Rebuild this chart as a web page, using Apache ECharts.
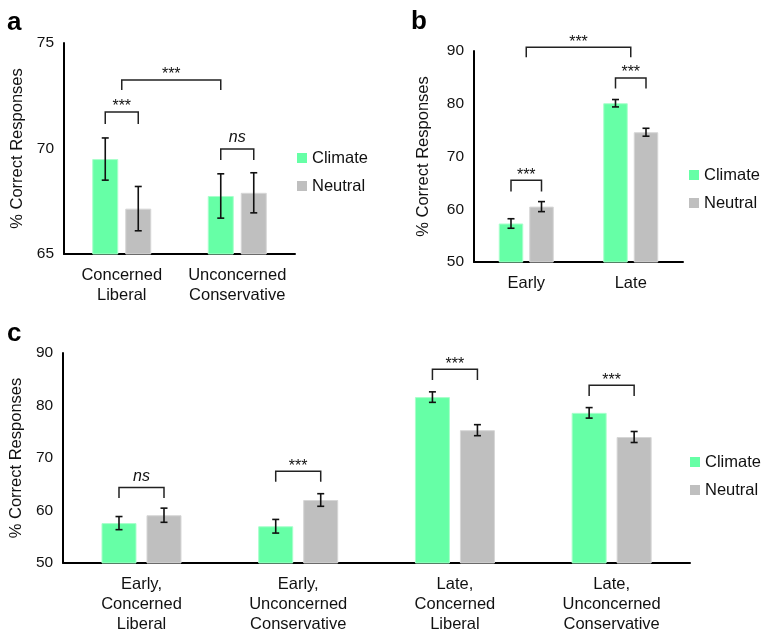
<!DOCTYPE html>
<html><head><meta charset="utf-8">
<script src="https://cdn.jsdelivr.net/npm/echarts@6/dist/echarts.min.js"></script>
<style>html,body{margin:0;padding:0;background:#fff}#c{width:761px;height:634px}</style>
</head><body><div id="c"></div>
<script>
// ---- Data ----
const seriesNames = ['Climate', 'Neutral'];
const catsA = ['Concerned\nLiberal', 'Unconcerned\nConservative'];
const climateA = [69.5, 67.75];
const neutralA = [67.15, 67.9];
const errClimateA = [1.0, 1.05];
const errNeutralA = [1.05, 0.95];

const catsB = ['Early', 'Late'];
const climateB = [57.3, 80.1];
const neutralB = [60.5, 74.6];
const errClimateB = [0.9, 0.7];
const errNeutralB = [0.95, 0.75];

const catsC = ['Early,\nConcerned\nLiberal', 'Early,\nUnconcerned\nConservative', 'Late,\nConcerned\nLiberal', 'Late,\nUnconcerned\nConservative'];
const climateC = [57.6, 57.0, 81.6, 78.6];
const neutralC = [59.1, 62.0, 75.3, 74.0];
const errClimateC = [1.25, 1.3, 1.0, 1.0];
const errNeutralC = [1.35, 1.2, 1.05, 1.05];

// brackets: [cat1, side1, cat2, side2, topValue, legValue]  side: -1 climate bar, 0 category centre, 1 neutral bar
const bracketsA = [[0,-1,0,1,71.73,71.16],[0,0,1,-1,73.25,72.77],[1,-1,1,1,69.98,69.45]];
const bracketLabelsA = ['***','***','ns'];
const bracketsB = [[0,0,1,0,90.7,88.8],[1,-1,1,1,84.9,82.9],[0,-1,0,1,65.5,63.35]];
const bracketLabelsB = ['***','***','***'];
const bracketsC = [[0,-1,0,1,64.4,62.4],[1,-1,1,1,67.5,65.5],[2,-1,2,1,86.9,84.85],[3,-1,3,1,83.85,81.8]];
const bracketLabelsC = ['ns','***','***','***'];

const ticksA = [65, 70, 75];
const ticksB = [50, 60, 70, 80, 90];
const ticksC = [50, 60, 70, 80, 90];

// ---- Styles ----
const FONT = "'Liberation Sans', Arial, sans-serif";
const GREEN = '#66FFA6', GREY = '#BFBFBF';
const INK = '#111';

const chart = echarts.init(document.getElementById('c'), null, {renderer: 'canvas'});

const panels = [
  {cats: catsA, climate: climateA, neutral: neutralA, eC: errClimateA, eN: errNeutralA, br: bracketsA, bl: bracketLabelsA, ticks: ticksA,
   grid: {left: 64, top: 43, width: 231, height: 211}, barW: 26, gap: 7, nameGap: 38,
   legend: {left: 297, top: 149}},
  {cats: catsB, climate: climateB, neutral: neutralB, eC: errClimateB, eN: errNeutralB, br: bracketsB, bl: bracketLabelsB, ticks: ticksB,
   grid: {left: 474, top: 51, width: 209, height: 211}, barW: 24.5, gap: 6, nameGap: 42,
   legend: {left: 689, top: 166}},
  {cats: catsC, climate: climateC, neutral: neutralC, eC: errClimateC, eN: errNeutralC, br: bracketsC, bl: bracketLabelsC, ticks: ticksC,
   grid: {left: 63, top: 353, width: 627, height: 213}, barW: 35, gap: 10, nameGap: 38,
   legend: {left: 690, top: 453}}
];

const grids = [], xAxes = [], yAxes = [], series = [], legends = [];
panels.forEach((p, i) => {
  grids.push(Object.assign({containLabel: false}, p.grid));
  xAxes.push({
    type: 'category', gridIndex: i, data: p.cats,
    axisLine: {lineStyle: {color: '#000', width: 2}},
    axisTick: {show: false},
    axisLabel: {color: INK, fontFamily: FONT, fontSize: 16.5, lineHeight: 20, margin: 11, interval: 0}
  });
  const step = p.ticks[1] - p.ticks[0];
  yAxes.push({
    type: 'value', gridIndex: i, min: p.ticks[0], max: p.ticks[p.ticks.length - 1], interval: step,
    name: '% Correct Responses', nameLocation: 'middle', nameRotate: 90, nameGap: p.nameGap,
    nameTextStyle: {color: INK, fontFamily: FONT, fontSize: 16.5},
    axisLine: {show: true, lineStyle: {color: '#000', width: 2}},
    axisTick: {show: false}, splitLine: {show: false},
    axisLabel: {color: INK, fontFamily: FONT, fontSize: 15.5, margin: 10}
  });
  const off = (p.barW + p.gap) / 2;
  series.push({
    name: 'Climate', type: 'bar', xAxisIndex: i, yAxisIndex: i, data: p.climate,
    barWidth: p.barW, barGap: (p.gap / p.barW * 100) + '%',
    itemStyle: {color: GREEN, borderColor: '#A8FFCB', borderWidth: 1}, silent: true
  });
  series.push({
    name: 'Neutral', type: 'bar', xAxisIndex: i, yAxisIndex: i, data: p.neutral,
    barWidth: p.barW, barGap: (p.gap / p.barW * 100) + '%',
    itemStyle: {color: GREY, borderColor: '#D6D6D6', borderWidth: 1}, silent: true
  });
  // error bars
  const errData = [];
  p.climate.forEach((v, k) => errData.push([k, v, p.eC[k], -1]));
  p.neutral.forEach((v, k) => errData.push([k, v, p.eN[k], 1]));
  series.push({
    type: 'custom', xAxisIndex: i, yAxisIndex: i, data: errData, silent: true, z: 5,
    encode: {x: 0, y: 1},
    renderItem: function (params, api) {
      const cat = api.value(0), v = api.value(1), e = api.value(2), side = api.value(3);
      const hi = api.coord([cat, v + e]), lo = api.coord([cat, v - e]);
      const x = hi[0] + side * off;
      const cap = 3.5;
      const st = {stroke: '#111', lineWidth: 1.6};
      return {type: 'group', children: [
        {type: 'line', shape: {x1: x, y1: hi[1], x2: x, y2: lo[1]}, style: st},
        {type: 'line', shape: {x1: x - cap, y1: hi[1], x2: x + cap, y2: hi[1]}, style: st},
        {type: 'line', shape: {x1: x - cap, y1: lo[1], x2: x + cap, y2: lo[1]}, style: st}
      ]};
    }
  });
  // significance brackets
  const labels = p.bl;
  series.push({
    type: 'custom', xAxisIndex: i, yAxisIndex: i, data: p.br, silent: true, z: 6, clip: false,
    encode: {x: 0, y: 4},
    renderItem: function (params, api) {
      const c1 = api.value(0), s1 = api.value(1), c2 = api.value(2), s2 = api.value(3);
      const top = api.value(4), leg = api.value(5);
      const a = api.coord([c1, top]), b = api.coord([c2, top]);
      const x1 = a[0] + s1 * off, x2 = b[0] + s2 * off;
      const yT = a[1], yL = api.coord([c1, leg])[1];
      const lab = labels[params.dataIndex];
      const isNs = lab === 'ns';
      return {type: 'group', children: [
        {type: 'polyline', shape: {points: [[x1, yL], [x1, yT], [x2, yT], [x2, yL]]},
         style: {stroke: '#222', lineWidth: 1.5, fill: null}},
        {type: 'text', style: {text: lab, x: (x1 + x2) / 2, y: isNs ? yT - 11 : yT - 5,
          textAlign: 'center', textVerticalAlign: 'middle', fill: INK,
          font: (isNs ? 'italic ' : '') + '16px ' + FONT}}
      ]};
    }
  });
  legends.push({
    data: seriesNames, orient: 'vertical', left: p.legend.left, top: p.legend.top, padding: 0,
    icon: 'rect', itemWidth: 10, itemHeight: 10, itemGap: 10, selectedMode: false,
    itemStyle: {borderWidth: 0},
    textStyle: {color: INK, fontFamily: FONT, fontSize: 16.5, lineHeight: 18}
  });
});

chart.setOption({
  animation: false,
  backgroundColor: '#fff',
  grid: grids, xAxis: xAxes, yAxis: yAxes, series: series, legend: legends,
  graphic: [
    {type: 'text', left: 7, top: 10, style: {text: 'a', font: 'bold 26px ' + FONT, fill: '#000'}},
    {type: 'text', left: 411, top: 9, style: {text: 'b', font: 'bold 26px ' + FONT, fill: '#000'}},
    {type: 'text', left: 7, top: 321, style: {text: 'c', font: 'bold 26px ' + FONT, fill: '#000'}}
  ]
});
</script></body></html>
